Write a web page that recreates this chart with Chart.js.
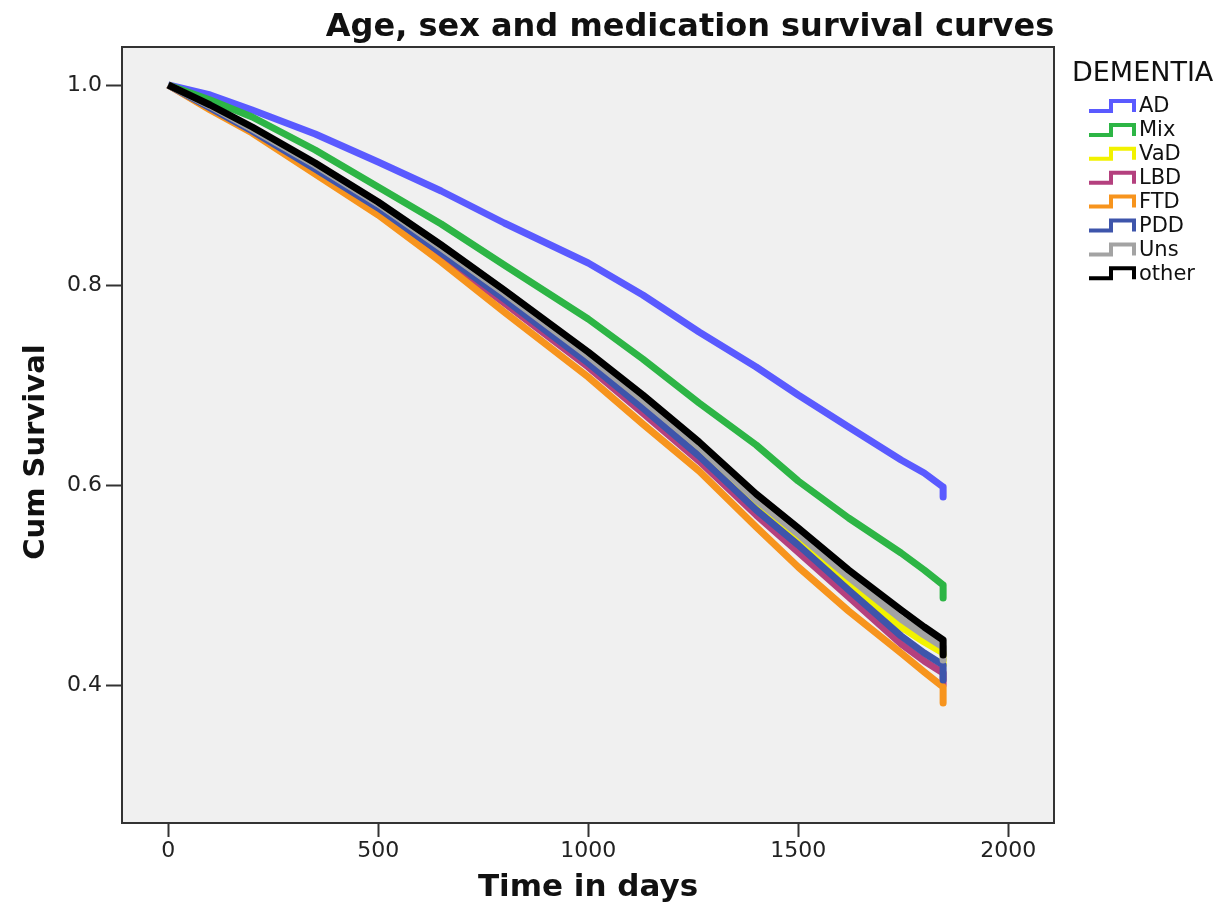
<!DOCTYPE html>
<html>
<head>
<meta charset="utf-8">
<script src="https://cdn.jsdelivr.net/npm/chart.js@4"></script>
<style>
  html, body { margin: 0; padding: 0; background: #ffffff; }
  #wrap { width: 1226px; height: 909px; }
</style>
</head>
<body>
<div id="wrap"><canvas id="survChart" width="1226" height="909"></canvas></div>
<script>
// Temps (jours) auxquels les courbes ont été lues, la dernière valeur répétée = chute finale
const times = [0, 100, 200, 350, 500, 650, 800, 1000, 1130, 1264, 1400, 1500, 1620, 1745, 1800, 1845, 1845];

const groups = ['AD', 'Mix', 'VaD', 'LBD', 'FTD', 'PDD', 'Uns', 'other'];

const survAD    = [1.0, 0.990, 0.975, 0.951, 0.923, 0.894, 0.862, 0.822, 0.790, 0.753, 0.718, 0.690, 0.658, 0.625, 0.612, 0.598, 0.588];
const survMix   = [1.0, 0.985, 0.968, 0.935, 0.898, 0.861, 0.820, 0.766, 0.726, 0.682, 0.640, 0.604, 0.567, 0.532, 0.515, 0.500, 0.487];
const survVaD   = [1.0, 0.978, 0.955, 0.918, 0.879, 0.835, 0.789, 0.726, 0.682, 0.634, 0.581, 0.547, 0.503, 0.458, 0.443, 0.432, 0.420];
const survLBD   = [1.0, 0.976, 0.953, 0.914, 0.875, 0.829, 0.782, 0.718, 0.672, 0.624, 0.570, 0.533, 0.488, 0.441, 0.424, 0.412, 0.400];
const survFTD   = [1.0, 0.975, 0.952, 0.911, 0.870, 0.823, 0.773, 0.708, 0.661, 0.614, 0.558, 0.518, 0.474, 0.432, 0.413, 0.398, 0.382];
const survPDD   = [1.0, 0.977, 0.954, 0.916, 0.877, 0.832, 0.786, 0.722, 0.677, 0.629, 0.575, 0.540, 0.495, 0.449, 0.432, 0.420, 0.405];
const survUns   = [1.0, 0.979, 0.956, 0.920, 0.881, 0.837, 0.792, 0.729, 0.685, 0.638, 0.585, 0.551, 0.508, 0.466, 0.450, 0.438, 0.425];
const survOther = [1.0, 0.980, 0.958, 0.922, 0.883, 0.840, 0.795, 0.733, 0.690, 0.643, 0.591, 0.557, 0.515, 0.475, 0.458, 0.445, 0.430];

const xTicks = [0, 500, 1000, 1500, 2000];
const yTicks = [0.4, 0.6, 0.8, 1.0];

const allSeries = [survAD, survMix, survVaD, survLBD, survFTD, survPDD, survUns, survOther];
const colors = ['#5a5aff', '#2db545', '#f2f200', '#b4407e', '#f7941d', '#3e55ab', '#a3a3a3', '#000000'];
// ordre de dessin : "other" au-dessus, AD en dessous
const drawOrder = [7, 6, 5, 4, 3, 2, 1, 0];

const datasets = groups.map((name, i) => ({
  label: name,
  data: allSeries[i].map((v, k) => ({ x: times[k], y: v })),
  borderColor: colors[i],
  backgroundColor: colors[i],
  borderWidth: 7,
  borderJoinStyle: 'round',
  pointRadius: 0,
  tension: 0,
  fill: false,
  order: drawOrder[i]
}));

// Fond gris et cadre de la zone de tracé
const framePlugin = {
  id: 'frame',
  beforeDatasetsDraw(chart) {
    const { ctx, chartArea: a } = chart;
    ctx.save();
    ctx.fillStyle = '#f0f0f0';
    ctx.fillRect(a.left, a.top, a.right - a.left, a.bottom - a.top);
    ctx.restore();
  },
  afterDraw(chart) {
    const { ctx, chartArea: a } = chart;
    ctx.save();
    ctx.strokeStyle = '#333333';
    ctx.lineWidth = 2;
    ctx.strokeRect(a.left, a.top, a.right - a.left, a.bottom - a.top);
    ctx.restore();
  }
};

// Titre, titre vertical et légende à marches façon SPSS
const textPlugin = {
  id: 'texts',
  afterDraw(chart) {
    const ctx = chart.ctx;
    ctx.save();
    ctx.fillStyle = '#111111';
    ctx.font = 'bold 32px "DejaVu Sans"';
    ctx.textAlign = 'center';
    ctx.textBaseline = 'alphabetic';
    ctx.fillText('Age, sex and medication survival curves', 690, 36);

    ctx.save();
    ctx.translate(44, 452);
    ctx.rotate(-Math.PI / 2);
    ctx.font = 'bold 29px "DejaVu Sans"';
    ctx.fillText('Cum Survival', 0, 0);
    ctx.restore();

    ctx.textAlign = 'left';
    ctx.font = '27px "DejaVu Sans"';
    ctx.fillText('DEMENTIA', 1072, 81);

    ctx.font = '21px "DejaVu Sans"';
    ctx.textBaseline = 'middle';
    chart.data.datasets.forEach((ds, i) => {
      const yc = 106 + i * 23.9;
      ctx.strokeStyle = ds.borderColor;
      ctx.lineWidth = 4;
      ctx.lineJoin = 'miter';
      ctx.beginPath();
      ctx.moveTo(1089, yc + 5);
      ctx.lineTo(1111, yc + 5);
      ctx.lineTo(1111, yc - 5);
      ctx.lineTo(1134, yc - 5);
      ctx.lineTo(1134, yc + 6);
      ctx.stroke();
      ctx.fillStyle = '#111111';
      ctx.fillText(ds.label, 1139, yc + 1);
    });
    ctx.restore();
  }
};

new Chart(document.getElementById('survChart'), {
  type: 'line',
  data: { datasets },
  options: {
    responsive: false,
    animation: false,
    layout: { padding: { left: 0, top: 47, right: 172, bottom: 0 } },
    plugins: {
      legend: { display: false },
      tooltip: { enabled: false }
    },
    scales: {
      x: {
        type: 'linear',
        min: -110,
        max: 2109,
        afterFit: scale => { scale.height = 86; },
        afterBuildTicks: scale => { scale.ticks = xTicks.map(v => ({ value: v })); },
        grid: { drawOnChartArea: false, drawTicks: true, tickLength: 14, tickWidth: 2, tickColor: '#333333' },
        border: { display: false },
        ticks: {
          color: '#222222',
          font: { family: 'DejaVu Sans', size: 22 },
          padding: 1,
          maxRotation: 0,
          callback: v => String(v)
        },
        title: {
          display: true,
          text: 'Time in days',
          color: '#111111',
          font: { family: 'DejaVu Sans', size: 31, weight: 'bold' },
          padding: { top: 0, bottom: 2 }
        }
      },
      y: {
        min: 0.262,
        max: 1.038,
        afterFit: scale => { scale.width = 122; },
        afterBuildTicks: scale => { scale.ticks = yTicks.map(v => ({ value: v })); },
        grid: { drawOnChartArea: false, drawTicks: true, tickLength: 16, tickWidth: 2, tickColor: '#333333' },
        border: { display: false },
        ticks: {
          color: '#222222',
          font: { family: 'DejaVu Sans', size: 22 },
          padding: 4,
          callback: v => Number(v).toFixed(1)
        },
        title: { display: false }
      }
    }
  },
  plugins: [framePlugin, textPlugin]
});
</script>
</body>
</html>
